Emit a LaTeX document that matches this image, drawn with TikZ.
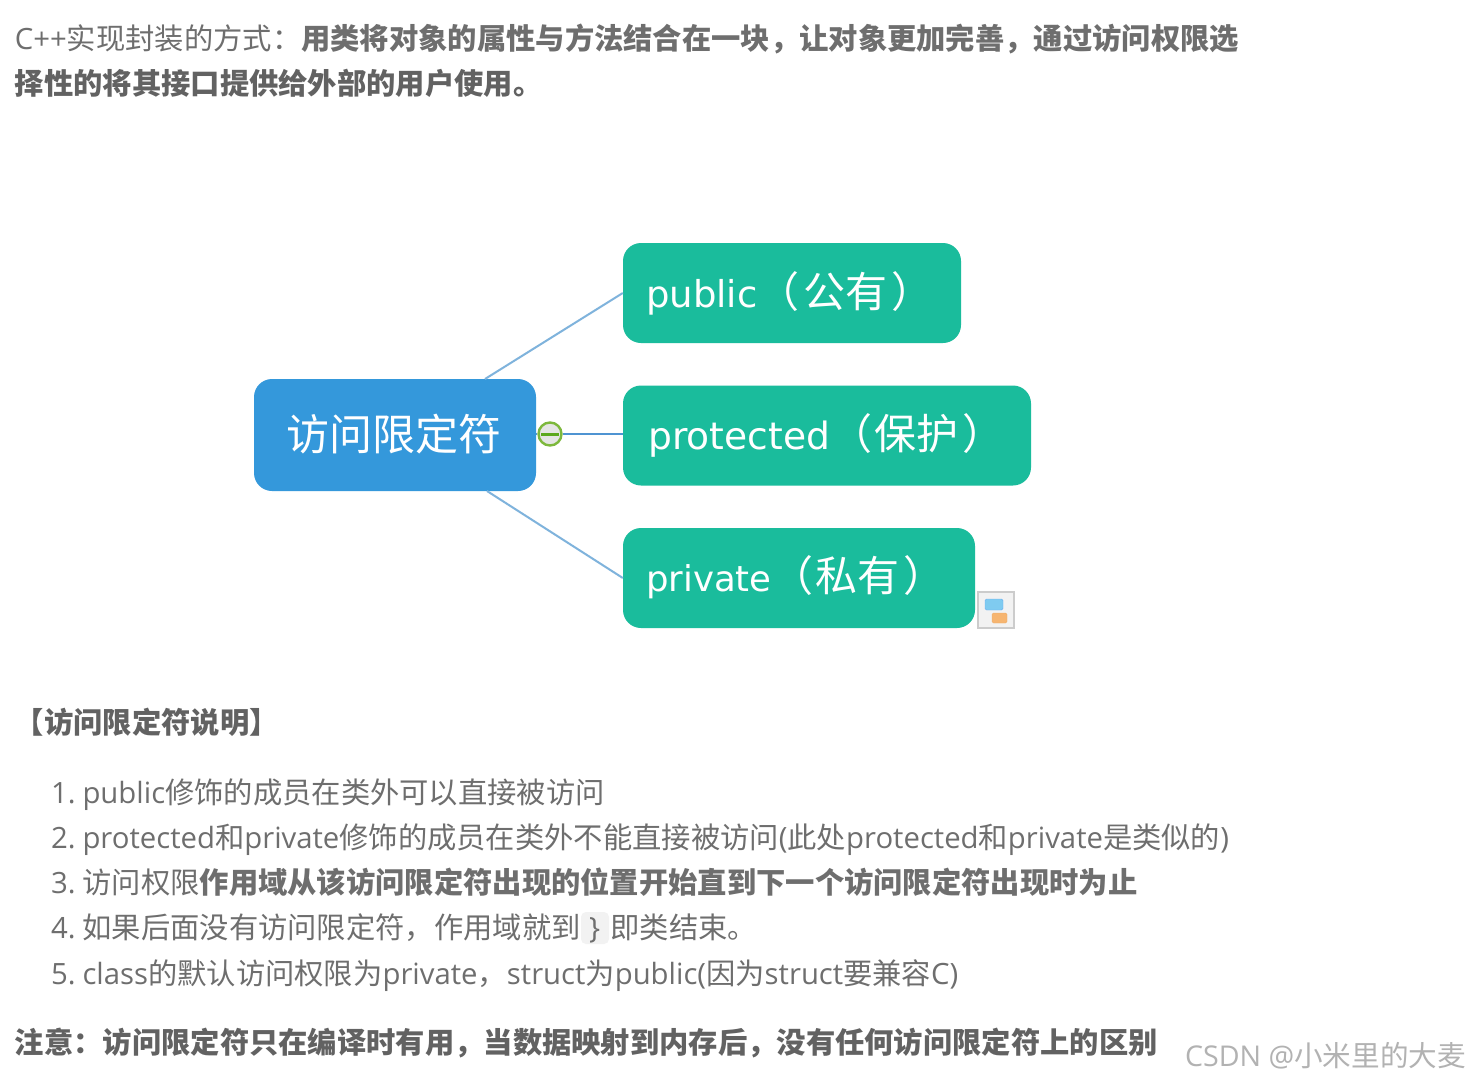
\documentclass[tikz,border=0pt]{standalone}
\usepackage{fontspec}
\setmainfont{Noto Sans CJK SC}
\newfontfamily\latinf{Open Sans}
\newfontfamily\boxlat{DejaVu Sans}
\newcommand{\lt}[1]{{\latinf #1}}
\newcommand{\bl}[2]{{\fontsize{#1}{48}\selectfont\boxlat #2}}
\definecolor{bodygray}{HTML}{6E6E6E}
\definecolor{boldgray}{HTML}{626262}
\definecolor{rootblue}{HTML}{3498DB}
\definecolor{leafgreen}{HTML}{1ABC9C}
\definecolor{linkblue}{HTML}{7FB3DC}
\definecolor{midlink}{HTML}{4F94D2}
\definecolor{ringgreen}{HTML}{7DB83C}
\definecolor{dashgreen}{HTML}{5CA81E}
\definecolor{iconblue}{HTML}{7FCBF0}
\definecolor{iconorange}{HTML}{F6B570}
\tikzset{
  line/.style={anchor=base west,inner sep=0pt,outer sep=0pt,text=bodygray,font=\fontsize{29.3}{35}\selectfont},
  boldline/.style={line,text=boldgray,font=\fontsize{29.3}{35}\bfseries\selectfont},
  rootbox/.style={draw=none,fill=rootblue,rounded corners=18pt,inner sep=0pt},
  leafbox/.style={draw=none,fill=leafgreen,rounded corners=18pt,minimum height=100pt,inner sep=0pt},
  leaftext/.style={anchor=base west,inner sep=0pt,text=white,font=\fontsize{42}{48}\selectfont},
  link/.style={draw=linkblue,line width=2pt},
}
\begin{document}
\begin{tikzpicture}[x=1pt,y=-1pt]
\useasboundingbox (0,0) rectangle (1468,1082);
\fill[white] (0,0) rectangle (1468,1082);

\node[line] (t1) at (15,49) {\lt{C++}实现封装的方式：\textbf{用类将对象的属性与方法结合在一块，让对象更加完善，通过访问权限选}};
\node[boldline] (t2) at (15,94) {择性的将其接口提供给外部的用户使用。};

\node[rootbox,minimum width=282pt,minimum height=112pt] (root) at (395,435) {};
\node[text=white,inner sep=0pt,font=\fontsize{43}{50}\selectfont] (roottext) at (393.5,434) {访问限定符};
\node[leafbox,minimum width=338pt] (pub) at (792,293) {};
\node[leafbox,minimum width=408pt] (pro) at (827,435.5) {};
\node[leafbox,minimum width=352pt] (pri) at (799,578) {};
\node[leaftext] (pubt) at (646,307) {\bl{37}{public}（\hspace{4pt}公有\hspace{4pt}）};
\node[leaftext] (prot) at (648,449) {\bl{37.6}{protected}（\hspace{3pt}保护\hspace{4pt}）};
\node[leaftext] (prit) at (646,591) {\bl{35.5}{private}（\hspace{2pt}私有\hspace{4pt}）};

\coordinate (roottop) at (485,379);
\coordinate (rootbot) at (487,491);
\node[circle,draw=ringgreen,line width=2.4pt,fill=black!10,minimum size=23pt,inner sep=0pt] (minus) at (550,434) {};
\draw[link] (roottop) -- (pub.west);
\draw[link] (rootbot) -- (pri.west);
\draw[link,draw=midlink] (minus.east) -- (pro.west |- minus.east);
\draw[link,draw=midlink] (root.east |- minus.west) -- (minus.west);
\draw[draw=dashgreen,line width=3pt] (541,434) -- (559,434);

\node[draw=black!20,line width=2pt,fill=black!5,minimum size=36pt,inner sep=0pt] (icon) at (996,610) {};
\fill[iconblue,draw=iconblue!85!blue,rounded corners=1.5pt] (985,599) rectangle (1003,610);
\fill[iconorange,draw=iconorange!85!brown,rounded corners=1.5pt] (992,613) rectangle (1007,623);

\node[boldline] (head) at (15,733) {【访问限定符说明】};

\node[line] (n1) at (51,803) {\lt{1.\hspace{7pt}public}修饰的成员在类外可以直接被访问};
\node[line] (n2) at (51,848) {\lt{2.\hspace{7pt}protected}和\lt{private}修饰的成员在类外不能直接被访问\lt{(}此处\lt{protected}和\lt{private}是类似的\lt{)}};
\node[line] (n3) at (51,893) {\lt{3.\hspace{7pt}}访问权限\textbf{作用域从该访问限定符出现的位置开始直到下一个访问限定符出现时为止}};
\fill[black!5,rounded corners=5pt] (581,912) rectangle (609,944);
\node[line] (n4) at (51,938) {\lt{4.\hspace{7pt}}如果后面没有访问限定符，作用域就到\hspace{30pt}即类结束。};
\node[line] (brace) at (589,938) {\lt{\}}};
\node[line] (n5) at (51,984) {\lt{5.\hspace{7pt}class}的默认访问权限为\lt{private}，\lt{struct}为\lt{public(}因为\lt{struct}要兼容\lt{C)}};

\node[boldline] (note) at (15,1053) {注意：访问限定符只在编译时有用，当数据映射到内存后，没有任何访问限定符上的区别};
\node[line,text=black!30,font=\fontsize{28.6}{33}\selectfont] (wm) at (1185,1066) {\lt{CSDN @}小米里的大麦};
\end{tikzpicture}
\end{document}
